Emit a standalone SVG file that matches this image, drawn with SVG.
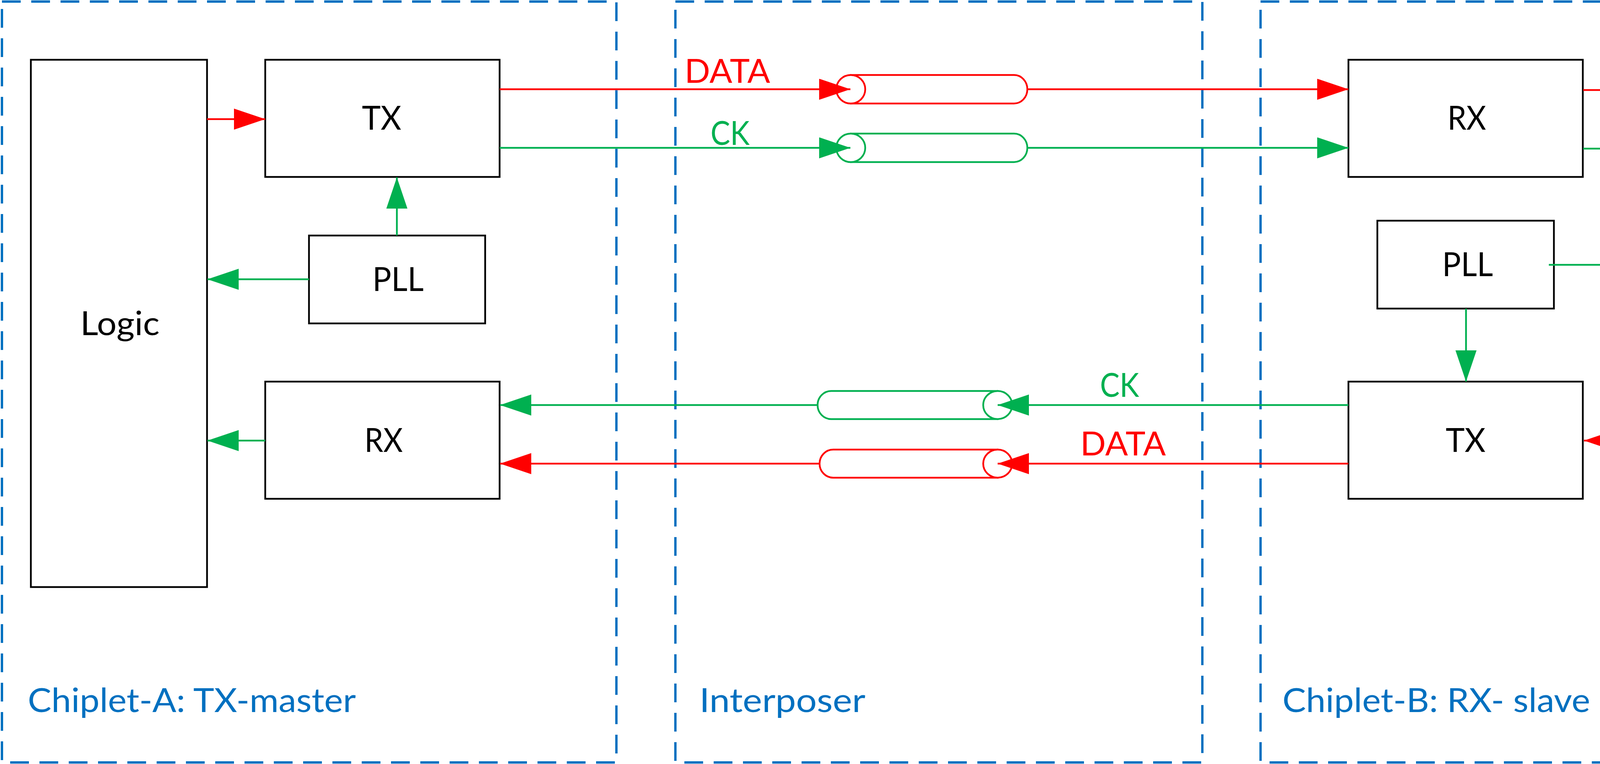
<svg xmlns="http://www.w3.org/2000/svg" width="4731" height="1956" viewBox="0 0 4731 1956">
<style>
.region{fill:none;stroke:#0070C0;stroke-width:6;stroke-dasharray:48 27;stroke-linecap:butt}
.box{fill:#FFFFFF;stroke:#000000;stroke-width:4.5}
.lbl{font-family:Lato,"Open Sans","Liberation Sans",sans-serif;font-size:86px;fill:#000000;text-anchor:middle}
.rlbl{font-family:Lato,"Open Sans","Liberation Sans",sans-serif;font-size:86px;fill:#0070C0;text-anchor:middle}
.red{stroke:#FF0000;stroke-width:4.5;fill:none}
.green{stroke:#00B050;stroke-width:4.5;fill:none}
.redtxt{font-family:Lato,"Open Sans","Liberation Sans",sans-serif;font-size:86px;fill:#FF0000;text-anchor:middle}
.greentxt{font-family:Lato,"Open Sans","Liberation Sans",sans-serif;font-size:86px;fill:#00B050;text-anchor:middle}
.cylr{fill:#FFFFFF;stroke:#FF0000;stroke-width:4.5}
.cylg{fill:#FFFFFF;stroke:#00B050;stroke-width:4.5}
</style>
<defs>
<marker id="ar" viewBox="0 0 80 54" refX="80" refY="27" markerWidth="80" markerHeight="54" markerUnits="userSpaceOnUse" orient="auto">
<path d="M0,0 L80,27 L0,54 Z" fill="#FF0000"/>
</marker>
<marker id="ag" viewBox="0 0 80 54" refX="80" refY="27" markerWidth="80" markerHeight="54" markerUnits="userSpaceOnUse" orient="auto">
<path d="M0,0 L80,27 L0,54 Z" fill="#00B050"/>
</marker>
</defs>
<rect width="4731" height="1956" fill="#FFFFFF"/>

<g id="chiplet-a">
<rect class="region" x="5" y="4" width="1573" height="1948"/>
<text class="rlbl" x="491" y="1823" textLength="840" lengthAdjust="spacingAndGlyphs">Chiplet-A: TX-master</text>
</g>
<g id="interposer">
<rect class="region" x="1729" y="4" width="1349" height="1948"/>
<text class="rlbl" x="2003" y="1823" textLength="425" lengthAdjust="spacingAndGlyphs">Interposer</text>
</g>
<g id="chiplet-b">
<rect class="region" x="3227" y="4" width="1499" height="1948"/>
<text class="rlbl" x="3677" y="1823" textLength="788" lengthAdjust="spacingAndGlyphs">Chiplet-B: RX- slave</text>
</g>

<g id="logic-a">
<rect class="box" x="79" y="153" width="451" height="1350"/>
<text class="lbl" x="307" y="858" textLength="203" lengthAdjust="spacingAndGlyphs">Logic</text>
</g>
<g id="tx-a">
<rect class="box" x="679" y="153" width="600" height="300"/>
<text class="lbl" x="977" y="332" textLength="101" lengthAdjust="spacingAndGlyphs">TX</text>
</g>
<g id="pll-a">
<rect class="box" x="791" y="603" width="451" height="225"/>
<text class="lbl" x="1019" y="745" textLength="131" lengthAdjust="spacingAndGlyphs">PLL</text>
</g>
<g id="rx-a">
<rect class="box" x="679" y="977" width="600" height="300"/>
<text class="lbl" x="982" y="1157" textLength="98" lengthAdjust="spacingAndGlyphs">RX</text>
</g>

<g id="rx-b">
<rect class="box" x="3452" y="153" width="600" height="300"/>
<text class="lbl" x="3755" y="332" textLength="99" lengthAdjust="spacingAndGlyphs">RX</text>
</g>
<g id="pll-b">
<rect class="box" x="3526" y="565" width="452" height="225"/>
<text class="lbl" x="3757" y="707" textLength="130" lengthAdjust="spacingAndGlyphs">PLL</text>
</g>
<g id="tx-b">
<rect class="box" x="3452" y="977" width="600" height="300"/>
<text class="lbl" x="3752" y="1157" textLength="102" lengthAdjust="spacingAndGlyphs">TX</text>
</g>
<g id="logic-b">
<rect class="box" x="4200" y="153" width="452" height="1350"/>
<text class="lbl" x="4429" y="857" textLength="202" lengthAdjust="spacingAndGlyphs">Logic</text>
</g>

<g id="cyl-data-top">
<path class="cylr" d="M2178,192 L2596,192 A34,36.5 0 0 1 2596,265 L2178,265 Z"/>
<ellipse class="cylr" cx="2178" cy="228.5" rx="37" ry="36.5"/>
</g>
<g id="cyl-ck-top">
<path class="cylg" d="M2178,342 L2596,342 A34,36.5 0 0 1 2596,415 L2178,415 Z"/>
<ellipse class="cylg" cx="2178" cy="378.5" rx="37" ry="36.5"/>
</g>
<g id="cyl-ck-bottom">
<path class="cylg" d="M2554,1001 L2128,1001 A35,36 0 0 0 2128,1073 L2554,1073 Z"/>
<ellipse class="cylg" cx="2554" cy="1037" rx="37" ry="36"/>
</g>
<g id="cyl-data-bottom">
<path class="cylr" d="M2554,1151 L2133,1151 A35,36 0 0 0 2133,1223 L2554,1223 Z"/>
<ellipse class="cylr" cx="2554" cy="1187" rx="37" ry="36"/>
</g>

<g id="connectors">
<path class="red" d="M530,305 L679,305" marker-end="url(#ar)"/>
<path class="green" d="M1016,603 L1016,454" marker-end="url(#ag)"/>
<path class="green" d="M791,715 L531,715" marker-end="url(#ag)"/>
<path class="green" d="M679,1128 L531,1128" marker-end="url(#ag)"/>
<path class="red" d="M1279,228.5 L2177,228.5" marker-end="url(#ar)"/>
<path class="green" d="M1279,378.5 L2177,378.5" marker-end="url(#ag)"/>
<path class="red" d="M2630,228.5 L3452,228.5" marker-end="url(#ar)"/>
<path class="green" d="M2630,378.5 L3452,378.5" marker-end="url(#ag)"/>
<path class="red" d="M4053,230.5 L4199,230.5" marker-end="url(#ar)"/>
<path class="green" d="M4053,380.5 L4199,380.5" marker-end="url(#ag)"/>
<path class="green" d="M3965,678 L4199,678" marker-end="url(#ag)"/>
<path class="green" d="M3753,790 L3753,977" marker-end="url(#ag)"/>
<path class="red" d="M4199,1128 L4055,1128" marker-end="url(#ar)"/>
<path class="green" d="M3452,1037 L2554,1037" marker-end="url(#ag)"/>
<path class="red" d="M3452,1187 L2554,1187" marker-end="url(#ar)"/>
<path class="green" d="M2093,1037 L1280,1037" marker-end="url(#ag)"/>
<path class="red" d="M2098,1187 L1280,1187" marker-end="url(#ar)"/>
<text class="redtxt" x="1862" y="212" textLength="219" lengthAdjust="spacingAndGlyphs">DATA</text>
<text class="greentxt" x="1869" y="371" textLength="100" lengthAdjust="spacingAndGlyphs">CK</text>
<text class="greentxt" x="2866" y="1016" textLength="100" lengthAdjust="spacingAndGlyphs">CK</text>
<text class="redtxt" x="2875" y="1166" textLength="219" lengthAdjust="spacingAndGlyphs">DATA</text>
</g>
</svg>
